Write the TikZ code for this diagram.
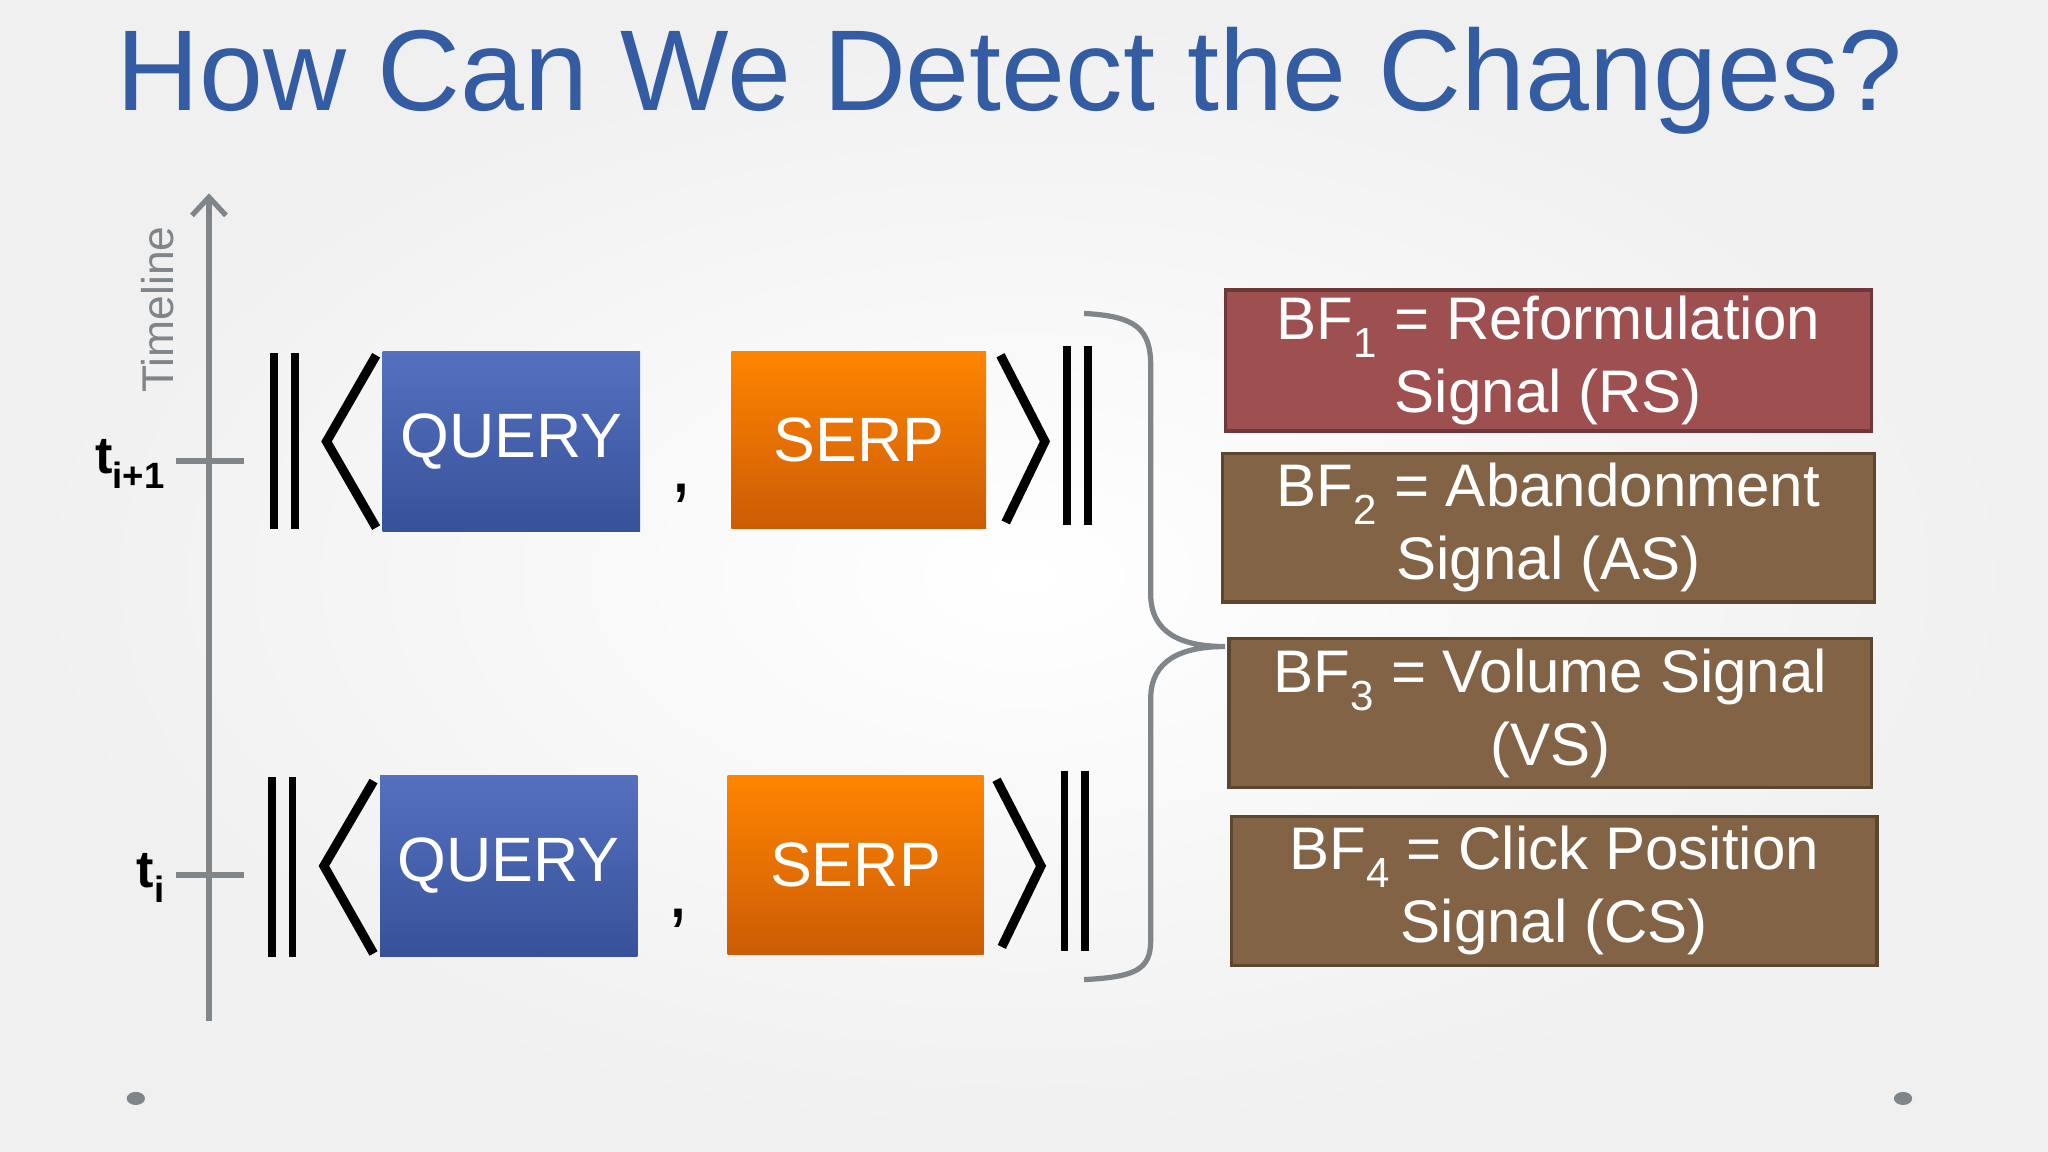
\documentclass[tikz,border=0pt]{standalone}
\usepackage{fontspec}
\usetikzlibrary{arrows.meta}
\setmainfont{Liberation Sans}
\begin{document}
\definecolor{ttl}{rgb}{0.20,0.36,0.64}
\definecolor{qa}{rgb}{0.33,0.44,0.75}
\definecolor{qb}{rgb}{0.22,0.32,0.60}
\definecolor{sa}{rgb}{1.0,0.52,0.0}
\definecolor{sb}{rgb}{0.80,0.36,0.02}
\definecolor{rs}{rgb}{0.62,0.31,0.31}
\definecolor{br}{rgb}{0.51,0.39,0.27}
\definecolor{axis}{rgb}{0.50,0.52,0.54}
\begin{tikzpicture}[x=1pt,y=-1pt,
  qbox/.style={draw=none,top color=qa,bottom color=qb,text=white,font=\fontsize{48}{52}\selectfont},
  sbox/.style={draw=none,top color=sa,bottom color=sb,text=white,font=\fontsize{48}{52}\selectfont},
  bf/.style={draw=#1!70!black,line width=2.5pt,fill=#1,text=white,align=center,font=\fontsize{46}{56}\selectfont},
  bar/.style={line width=6pt,black},
  ang/.style={line width=7pt,black,line join=miter},
  ax/.style={line width=4pt,axis}]
\fill[gray!10] (0,0) rectangle (1568,882);
\shade[inner color=white,outer color=gray!12] (0,0) rectangle (1568,882);
\useasboundingbox (0,0) rectangle (1568,882);
\node[text=ttl,font=\fontsize{88}{90}\selectfont] (title) at (773,62) {How Can We Detect the Changes?};
% axis
\coordinate (a0) at (160,782); \coordinate (a1) at (160,148);
\draw[ax,-{Straight Barb[length=14pt,width=26pt]}] (a0) -- (a1);
\coordinate (t1a) at (135,353); \coordinate (t1b) at (187,353);
\coordinate (t0a) at (135,670); \coordinate (t0b) at (187,670);
\draw[ax] (t1a) -- (t1b); \draw[ax] (t0a) -- (t0b);
\node[rotate=90,text=axis,font=\fontsize{34}{36}\selectfont] (tl) at (121,237) {Timeline};
\node[font=\bfseries\fontsize{40}{40}\selectfont,anchor=east] (ti1) at (130,355) {t\textsubscript{i+1}};
\node[font=\bfseries\fontsize{40}{40}\selectfont,anchor=east] (ti) at (130,672) {t\textsubscript{i}};
% row 1
\draw[bar] (210,270) -- (210,405); \draw[bar] (226,270) -- (226,405);
\draw[ang] (288,272) -- (250,338) -- (288,404);
\node[qbox,minimum width=197pt,minimum height=138pt] (q1) at (391.5,338) {QUERY};
\node[font=\fontsize{60}{60}\selectfont] (c1) at (522,378) {,};
\node[sbox,minimum width=195pt,minimum height=136pt] (s1) at (657.5,337) {SERP};
\draw[ang] (766,272) -- (800,338) -- (770,400);
\draw[bar] (817,265) -- (817,402); \draw[bar] (833,265) -- (833,402);
% row 2
\draw[bar] (208,595) -- (208,733); \draw[bar] (224,595) -- (224,733);
\draw[ang] (286,598) -- (248,663) -- (286,730);
\node[qbox,minimum width=197pt,minimum height=138pt] (q0) at (389.5,663) {QUERY};
\node[font=\fontsize{60}{60}\selectfont] (c0) at (519,703) {,};
\node[sbox,minimum width=196pt,minimum height=137pt] (s0) at (655,662.5) {SERP};
\draw[ang] (763,597) -- (797,663) -- (767,725);
\draw[bar] (815,590) -- (815,728); \draw[bar] (831,590) -- (831,728);
% brace
\coordinate (b0) at (830,240); \coordinate (bm) at (938,495); \coordinate (b1) at (830,750);
\draw[ax] (b0) .. controls (870,242) and (881,252) .. (881,280) -- (881,455)
  .. controls (881,485) and (905,495) .. (bm)
  .. controls (905,495) and (881,505) .. (881,535) -- (881,720)
  .. controls (881,742) and (870,748) .. (b1);
% boxes
\node[bf=rs,minimum width=495pt,minimum height=108pt] (bf1) at (1185.5,276) {BF\textsubscript{1} = Reformulation\\Signal (RS)};
\node[bf=br,minimum width=499pt,minimum height=114pt] (bf2) at (1185.5,404) {BF\textsubscript{2} = Abandonment\\Signal (AS)};
\node[bf=br,minimum width=492pt,minimum height=114pt] (bf3) at (1187,546) {BF\textsubscript{3} = Volume Signal\\(VS)};
\node[bf=br,minimum width=494pt,minimum height=114pt] (bf4) at (1190,682) {BF\textsubscript{4} = Click Position\\Signal (CS)};
\fill[axis] (104,841) ellipse (7pt and 5pt);
\fill[axis] (1457,841) ellipse (7pt and 5pt);
\end{tikzpicture}
\end{document}
